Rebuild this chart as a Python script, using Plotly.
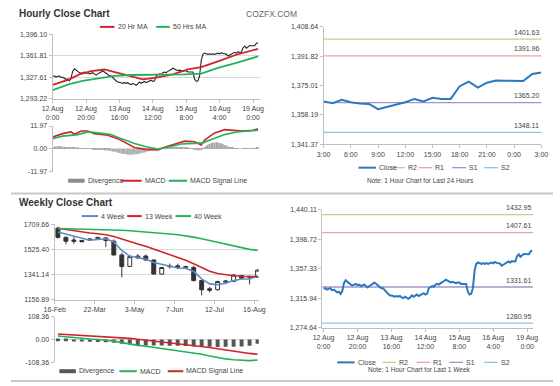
import plotly.graph_objects as go

W, H = 560, 386
def px(x): return x / W
def py(y): return 1 - y / H

FONT = "Liberation Sans, Arial, sans-serif"
TXT = "#444444"
GRID = "#d9d9d9"
AXL = "#bfbfbf"

# ---------------- data ----------------
hour_tick_hours = [0, 20, 40, 60, 80, 100, 120]
hour_tick_labels = ["12 Aug<br>0:00", "12 Aug<br>20:00", "13 Aug<br>16:00", "14 Aug<br>12:00",
                    "15 Aug<br>8:00", "16 Aug<br>4:00", "19 Aug<br>0:00"]

# hourly close, last week (124 hours)
week_close = [
    1329, 1330, 1328, 1329, 1330, 1327, 1328, 1326, 1324, 1325, 1322, 1326,
    1337, 1341, 1339, 1336, 1335, 1334, 1335, 1336, 1334, 1335, 1333, 1334,
    1335, 1333, 1331, 1333, 1334, 1336, 1338, 1336, 1333, 1332, 1330, 1330,
    1327, 1325, 1322, 1320, 1320, 1319, 1318, 1319, 1318, 1319, 1317, 1316,
    1318, 1316, 1315, 1317, 1320, 1318, 1319, 1321, 1319, 1320, 1322, 1323,
    1321, 1322, 1330, 1331, 1333, 1332, 1335, 1336, 1335, 1337, 1338, 1340,
    1342, 1341, 1340, 1338, 1339, 1338, 1337, 1338, 1338, 1336, 1336, 1335,
    1336, 1325, 1321, 1322, 1330, 1355, 1364, 1366, 1365, 1364, 1365, 1364,
    1365, 1364, 1365,
    1365.9, 1364.8, 1366.8, 1365.4, 1364.6, 1364.4, 1361.4, 1362.6, 1364.0, 1365.4,
    1367.3, 1365.9, 1367.9, 1367.3, 1367.3, 1374.6, 1377.2, 1373.8, 1376.6, 1377.9,
    1377.7, 1377.6, 1377.6, 1381.6, 1382.4,
]

ma20_hours = [0, 10, 16, 23, 31, 37, 47, 54, 62, 72, 81, 89, 99, 110, 123]
ma20_vals = [1315.6, 1324.4, 1332.2, 1337.5, 1340.0, 1336.0, 1329.7, 1324.4, 1327.0,
             1332.2, 1340.0, 1343.7, 1353.0, 1363.4, 1372.7]
ma50_hours = [0, 10, 18, 27, 37, 47, 56, 66, 79, 89, 99, 110, 123]
ma50_vals = [1307.2, 1316.6, 1321.9, 1326.0, 1329.7, 1331.2, 1331.2, 1331.2, 1332.2,
             1333.3, 1342.6, 1350.4, 1360.9]

macd_h_hours = [0, 6, 11, 13, 17, 21, 25, 33, 39, 45, 49, 56, 63, 68, 74, 79, 85, 89, 91,
                97, 103, 108, 114, 120, 123]
macd_h_vals = [6.3, 8.0, 8.9, 7.7, 9.4, 9.4, 8.0, 7.2, 5.4, 2.9, 0.8, -0.2, -0.5, 1.2, 2.9,
               4.1, 3.8, 2.1, 4.6, 8.4, 10.1, 9.8, 9.3, 9.8, 10.5]
signal_h_hours = [0, 6, 15, 21, 27, 35, 41, 49, 56, 63, 70, 77, 85, 90, 95, 103, 110, 118, 123]
signal_h_vals = [5.4, 6.7, 7.5, 8.9, 8.4, 7.5, 5.4, 2.9, 1.2, 0.0, 1.2, 2.6, 2.9, 3.2, 4.9,
                 7.5, 8.9, 9.4, 9.8]
divergence_h = [
    1.0, 1.2, 1.3, 1.4, 1.5, 1.3, 1.2, 1.1, 1.0, 0.9,
    0.8, 0.6, 0.7, 0.5, 0.4, 0.5, 0.4, 0.3, 0.4, 0.3,
    0.2, 0.3, 0.1, 0.0, -0.1, -0.2, -0.3, -0.3, -0.4, -0.5,
    -0.5, -0.6, -0.7, -0.8, -1.0, -1.1, -1.3, -1.5, -1.7, -1.9,
    -2.1, -2.3, -2.5, -2.6, -2.8, -2.9, -3.0, -2.9, -3.0, -2.8,
    -2.7, -2.6, -2.4, -2.2, -2.0, -1.8, -1.5, -1.3, -1.0, -0.8,
    -0.6, -0.4, -0.2, 0.0, 0.2, 0.4, 0.6, 0.7, 0.8, 0.9,
    1.0, 1.1, 1.2, 1.2, 1.1, 1.0, 1.0, 0.9, 0.8, 0.7,
    0.6, 0.5, 0.4, 0.3, 0.2, -0.2, -0.5, -0.7, -0.6, -0.2,
    0.4, 1.0, 1.6, 2.2, 2.7, 3.0, 3.3, 3.4, 3.4, 3.3,
    3.1, 2.8, 2.5, 2.1, 1.7, 1.3, 1.0, 0.7, 0.5, 0.3,
    0.2, 0.1, 0.0, 0.0, 0.1, 0.2, 0.2, 0.3, 0.3, 0.3,
    0.4, 0.4, 0.5, 0.5,
]

day_tick_labels = ["3:00", "6:00", "9:00", "12:00", "15:00", "18:00", "21:00", "0:00", "3:00"]
levels_24h = {"R2": 1401.63, "R1": 1391.96, "S1": 1365.20, "S2": 1348.11}
levels_1w = {"R2": 1432.95, "R1": 1407.61, "S1": 1331.61, "S2": 1280.95}

week_tick_idx = [0, 5, 10, 15, 20, 25]
week_tick_labels = ["16-Feb", "22-Mar", "3-May", "7-Jun", "12-Jul", "16-Aug"]
wk_open = [1681, 1613, 1594, 1590, 1592, 1599, 1609, 1585, 1484, 1400, 1462, 1476, 1447,
           1344, 1398, 1404, 1394, 1392, 1296, 1236, 1229, 1285, 1289, 1333, 1320, 1321]
wk_high = [1690, 1620, 1622, 1596, 1606, 1617, 1615, 1598, 1500, 1478, 1490, 1488, 1452,
           1396, 1421, 1420, 1405, 1404, 1300, 1250, 1295, 1300, 1342, 1338, 1333, 1378]
wk_low = [1606, 1562, 1566, 1578, 1588, 1596, 1542, 1480, 1320, 1396, 1455, 1440, 1340,
          1340, 1385, 1380, 1388, 1290, 1188, 1210, 1222, 1278, 1286, 1310, 1268, 1318]
wk_close = [1613, 1585, 1585, 1581, 1601, 1613, 1590, 1484, 1400, 1472, 1476, 1447, 1344,
            1392, 1402, 1393, 1398, 1296, 1229, 1225, 1289, 1292, 1337, 1314, 1326, 1373]
ma4w = [1652, 1638, 1622, 1609, 1592, 1598, 1603, 1580, 1517, 1476, 1464, 1452, 1428,
        1416, 1400, 1388, 1387, 1363, 1308, 1272, 1265, 1277, 1296, 1308, 1308, 1332]
ma13w = [1680, 1670, 1660, 1652, 1645, 1640, 1633, 1620, 1600, 1582, 1565, 1548, 1528,
         1505, 1485, 1465, 1445, 1420, 1390, 1365, 1348, 1338, 1332, 1328, 1325, 1325]
ma40w = [1678, 1677, 1676, 1675, 1674, 1673, 1671, 1668, 1665, 1662, 1658, 1653, 1648,
         1644, 1638, 1632, 1625, 1615, 1603, 1590, 1575, 1560, 1548, 1535, 1525, 1518]
macd_w = [16, 12, 8, 5, 2, 0, -3, -8, -15, -22, -28, -32, -37, -43, -50, -55, -60, -64,
          -70, -78, -86, -92, -96, -99, -100, -97]
signal_w = [26, 24, 22, 20, 18, 16, 14, 12, 9, 5, 1, -3, -7, -11, -15, -19, -23, -27, -32,
            -38, -44, -50, -56, -61, -66, -70]
divergence_w = [-8, -9, -10, -10, -11, -12, -13, -16, -20, -24, -26, -28, -28, -29, -30,
                -30, -31, -33, -34, -35, -36, -35, -34, -33, -30, -20]

hp_ticks = [1293.22, 1327.61, 1361.81, 1396.10]
hm_ticks = [-11.97, 0.00, 11.97]
day_ticks = [1341.37, 1358.19, 1375.01, 1391.82, 1408.64]
wk_ticks = [1156.89, 1341.14, 1525.40, 1709.66]
wm_ticks = [-108.36, 0.00, 108.36]
wh_ticks = [1274.64, 1315.94, 1357.33, 1398.72, 1440.11]

# ---------------- colors ----------------
C_RED = "#d0232a"
C_GREEN = "#23b25a"
C_BLUE = "#2a78c0"
C_BLUE_MA = "#5b8cc8"
LEVEL_COLORS = {"R2": "#c8cc8c", "R1": "#eda3a6", "S1": "#a394cc", "S2": "#86c9dc"}

hours = list(range(len(week_close)))
day_close = week_close[-25:]
day_hours = list(range(len(day_close)))
weeks = list(range(len(wk_open)))

fig = go.Figure()

# 1 hourly price
fig.add_trace(go.Scatter(x=hours, y=week_close, mode="lines", line=dict(color="#222", width=1.1),
                         xaxis="x", yaxis="y", name="Close"))
fig.add_trace(go.Scatter(x=ma20_hours, y=ma20_vals, mode="lines", line=dict(color=C_RED, width=1.8),
                         xaxis="x", yaxis="y", name="20 Hr MA"))
fig.add_trace(go.Scatter(x=ma50_hours, y=ma50_vals, mode="lines", line=dict(color=C_GREEN, width=1.8),
                         xaxis="x", yaxis="y", name="50 Hrs MA"))
# 2 hourly MACD
fig.add_trace(go.Bar(x=hours, y=divergence_h, width=0.55, marker=dict(color="#a8a8a8", line=dict(width=0)),
                     xaxis="x2", yaxis="y2", name="Divergence"))
fig.add_trace(go.Scatter(x=macd_h_hours, y=macd_h_vals, mode="lines", line=dict(color=C_RED, width=1.6),
                         xaxis="x2", yaxis="y2", name="MACD"))
fig.add_trace(go.Scatter(x=signal_h_hours, y=signal_h_vals, mode="lines", line=dict(color=C_GREEN, width=1.6),
                         xaxis="x2", yaxis="y2", name="MACD Signal Line"))
# 3 last 24 hours
fig.add_trace(go.Scatter(x=day_hours, y=day_close, mode="lines", line=dict(color=C_BLUE, width=2),
                         xaxis="x3", yaxis="y3", name="Close"))
# 4 weekly candles
fig.add_trace(go.Candlestick(x=weeks, open=wk_open, high=wk_high, low=wk_low, close=wk_close,
                             increasing=dict(line=dict(color="#333", width=1), fillcolor="white"),
                             decreasing=dict(line=dict(color="#333", width=1), fillcolor="#333"),
                             whiskerwidth=0, xaxis="x4", yaxis="y4", name="Weekly"))
fig.add_trace(go.Scatter(x=weeks, y=ma4w, mode="lines", line=dict(color=C_BLUE_MA, width=1.6),
                         xaxis="x4", yaxis="y4", name="4 Week"))
fig.add_trace(go.Scatter(x=weeks, y=ma13w, mode="lines", line=dict(color=C_RED, width=1.6),
                         xaxis="x4", yaxis="y4", name="13 Week"))
fig.add_trace(go.Scatter(x=weeks, y=ma40w, mode="lines", line=dict(color=C_GREEN, width=1.6),
                         xaxis="x4", yaxis="y4", name="40 Week"))
# 5 weekly MACD
fig.add_trace(go.Bar(x=weeks, y=divergence_w, width=0.5, marker=dict(color="#555", line=dict(width=0)),
                     xaxis="x5", yaxis="y5", name="Divergence"))
fig.add_trace(go.Scatter(x=weeks, y=macd_w, mode="lines", line=dict(color=C_GREEN, width=1.6),
                         xaxis="x5", yaxis="y5", name="MACD"))
fig.add_trace(go.Scatter(x=weeks, y=signal_w, mode="lines", line=dict(color=C_RED, width=1.6),
                         xaxis="x5", yaxis="y5", name="MACD Signal Line"))
# 6 last week hourly
fig.add_trace(go.Scatter(x=hours, y=week_close, mode="lines", line=dict(color=C_BLUE, width=2),
                         xaxis="x6", yaxis="y6", name="Close"))

tickfont = dict(family=FONT, size=7, color=TXT)

def xax(x0, x1, rng, anchor, tickvals=None, ticktext=None, showline=True):
    d = dict(domain=[px(x0), px(x1)], range=rng, anchor=anchor, showgrid=False, zeroline=False,
             showline=showline, linecolor=AXL, linewidth=1, tickfont=tickfont, fixedrange=True)
    if tickvals is None:
        d.update(showticklabels=False, ticks="")
    else:
        d.update(tickvals=tickvals, ticktext=ticktext, ticks="outside", ticklen=3, tickcolor=AXL)
    return d

def yax(y_top, y_bot, rng, anchor, tickvals, ticktext, grid):
    return dict(domain=[py(y_bot), py(y_top)], range=rng, anchor=anchor, showgrid=grid, gridcolor=GRID,
                gridwidth=1, zeroline=False, showline=True, linecolor=AXL, linewidth=1,
                tickvals=tickvals, ticktext=ticktext, tickfont=tickfont, ticks="outside", ticklen=3,
                tickcolor=AXL, fixedrange=True)

fmt_c = lambda v: f"{v:,.2f}"
fmt_p = lambda v: f"{v:.2f}"

fig.update_layout(
    xaxis=xax(43, 257, [0, 124], "y", hour_tick_hours, hour_tick_labels),
    yaxis=yax(30.7, 96.7, [hp_ticks[0], hp_ticks[-1]], "x", hp_ticks, [fmt_c(v) for v in hp_ticks], True),
    xaxis2=xax(43, 257, [0, 124], "y2", showline=False),
    yaxis2=yax(124.3, 171, [hm_ticks[0], hm_ticks[-1]], "x2", hm_ticks, [fmt_c(v) for v in hm_ticks], True),
    xaxis3=xax(323, 548, [0, 24], "y3", list(range(0, 25, 3)), day_tick_labels),
    yaxis3=yax(23.3, 142.7, [day_ticks[0], day_ticks[-1]], "x3", day_ticks, [fmt_c(v) for v in day_ticks], False),
    xaxis4=xax(45, 256, [-0.42, 25.15], "y4", [i - 0.4 for i in week_tick_idx], week_tick_labels),
    yaxis4=yax(224.3, 301, [wk_ticks[0], wk_ticks[-1]], "x4", wk_ticks, [fmt_p(v) for v in wk_ticks], True),
    xaxis5=xax(45, 256, [-0.42, 25.15], "y5", showline=False),
    yaxis5=yax(318.3, 365, [wm_ticks[0], wm_ticks[-1]], "x5", wm_ticks, [fmt_p(v) for v in wm_ticks], True),
    xaxis6=xax(321.7, 539.3, [-0.74, 123.4], "y6", hour_tick_hours, hour_tick_labels),
    yaxis6=yax(209.3, 329.7, [wh_ticks[0], wh_ticks[-1]], "x6", wh_ticks, [fmt_c(v) for v in wh_ticks], False),
)
fig.layout.xaxis4.rangeslider = dict(visible=False)

shapes = []
annotations = []

# support / resistance levels
for key, v in levels_24h.items():
    shapes.append(dict(type="line", xref="x3 domain", yref="y3", x0=0, x1=1, y0=v, y1=v,
                       line=dict(color=LEVEL_COLORS[key], width=1.3), layer="below"))
    annotations.append(dict(xref="x3 domain", yref="y3", x=1, y=v, yshift=7, xanchor="right",
                            yanchor="middle", text=f"{v:.2f}", showarrow=False,
                            font=dict(family=FONT, size=7, color=TXT)))
for key, v in levels_1w.items():
    shapes.append(dict(type="line", xref="x6 domain", yref="y6", x0=0, x1=1, y0=v, y1=v,
                       line=dict(color=LEVEL_COLORS[key], width=1.3), layer="below"))
    annotations.append(dict(xref="x6 domain", yref="y6", x=1, y=v, yshift=7, xanchor="right",
                            yanchor="middle", text=f"{v:.2f}", showarrow=False,
                            font=dict(family=FONT, size=7, color=TXT)))

# separators
for yy in (193, 384):
    shapes.append(dict(type="line", xref="paper", yref="paper", x0=0, x1=1, y0=py(yy), y1=py(yy),
                       line=dict(color="#c8c8c8", width=2)))

def text(x, y, s, size=7, color=TXT, anchor="left", bold=False):
    annotations.append(dict(xref="paper", yref="paper", x=px(x), y=py(y), text=f"<b>{s}</b>" if bold else s,
                            showarrow=False, xanchor=anchor, yanchor="middle",
                            font=dict(family=FONT, size=size, color=color)))

def legend_item(x0, x1, y, color, label, width=2):
    shapes.append(dict(type="line", xref="paper", yref="paper", x0=px(x0), x1=px(x1), y0=py(y), y1=py(y),
                       line=dict(color=color, width=width)))
    text(x1 + 1, y, label)

text(6, 9.5, "Hourly Close Chart", size=10, color="#333", bold=True)
text(298, 10, "COZFX.COM", size=8.5, color="#666", anchor="right")
text(6, 202.5, "Weekly Close Chart", size=10, color="#333", bold=True)

legend_item(92, 107, 23.3, C_RED, "20 Hr MA")
legend_item(150, 164, 23.3, C_GREEN, "50 Hrs MA")

legend_item(59, 76, 180, "#8c8c8c", "Divergence", width=4)
legend_item(114, 135, 180, C_RED, "MACD")
legend_item(163, 182, 180, C_GREEN, "MACD Signal Line")

legend_item(359, 377, 166.7, C_BLUE, "Close", width=2)
legend_item(393, 407, 166.7, LEVEL_COLORS["R2"], "R2", width=1.3)
legend_item(421, 435, 166.7, LEVEL_COLORS["R1"], "R1", width=1.3)
legend_item(456, 470, 166.7, LEVEL_COLORS["S1"], "S1", width=1.3)
legend_item(489, 503, 166.7, LEVEL_COLORS["S2"], "S2", width=1.3)
text(423, 180, "Note: 1 Hour Chart for Last 24 Hours", size=6.5, anchor="center")

legend_item(73, 90, 216, C_BLUE_MA, "4 Week")
legend_item(120, 135, 216, C_RED, "13 Week")
legend_item(170, 186, 216, C_GREEN, "40 Week")

legend_item(50, 67, 374, "#555", "Divergence", width=4)
legend_item(112, 130, 374, C_GREEN, "MACD")
legend_item(162, 178, 374, C_RED, "MACD Signal Line")

legend_item(337, 355, 365, C_BLUE, "Close", width=2)
legend_item(384, 398, 365, LEVEL_COLORS["R2"], "R2", width=1.3)
legend_item(419, 433, 365, LEVEL_COLORS["R1"], "R1", width=1.3)
legend_item(453, 467, 365, LEVEL_COLORS["S1"], "S1", width=1.3)
legend_item(489, 503, 365, LEVEL_COLORS["S2"], "S2", width=1.3)
text(422, 372.5, "Note: 1 Hour Chart for Last 1 Week", size=6.5, anchor="center")

fig.update_layout(
    width=W, height=H, margin=dict(l=0, r=0, t=0, b=0), autosize=False,
    paper_bgcolor="white", plot_bgcolor="white", showlegend=False,
    font=dict(family=FONT, size=7, color=TXT),
    shapes=shapes, annotations=annotations, barmode="overlay",
)

fig.write_html("out.html", config={"displayModeBar": False},
               post_script="document.body.style.margin='0';document.body.style.overflow='hidden';")
